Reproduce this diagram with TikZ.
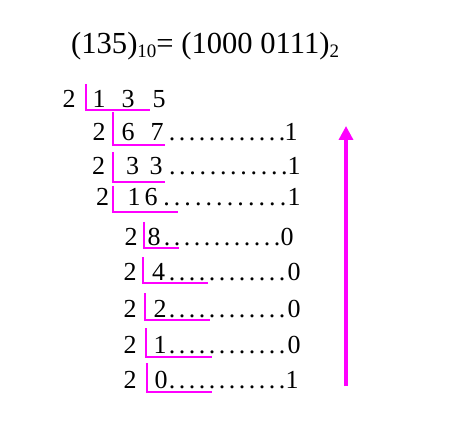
\documentclass[tikz,border=0pt]{standalone}
\usepackage{fontspec}
\setmainfont{Liberation Serif}
\usetikzlibrary{arrows.meta}
\definecolor{mag}{RGB}{255,0,255}
\newcommand{\dotrow}[2]{\foreach \i in {1,...,#2}{\makebox[#1]{.}}}
\begin{document}
\begin{tikzpicture}[x=1pt,y=-1pt,
  txt/.style={inner sep=0pt,anchor=base,font=\fontsize{26}{26}\selectfont},
  dts/.style={inner sep=0pt,anchor=base west,font=\fontsize{26}{26}\selectfont},
  brk/.style={draw=mag,line width=2pt},
  arr/.style={draw=mag,line width=3.3pt,-{Triangle[length=14pt,width=14pt]}}]
\useasboundingbox (0,0) rectangle (455,422);
% title
\node[inner sep=0pt,anchor=base west,font=\fontsize{30.6}{30.6}\selectfont] (title) at (71,54)
  {(135)\raisebox{-4pt}{\fontsize{19}{19}\selectfont 10}= (1000 0111)\raisebox{-4pt}{\fontsize{19}{19}\selectfont 2}};
% row 0
\node[txt] (r0d) at (69,108) {2};
\node[txt] (r0a) at (99,108) {1};
\node[txt] (r0b) at (128,108) {3};
\node[txt] (r0c) at (159,108) {5};
\draw[brk] (86,84) |- (150,110);
% row 1
\node[txt] (r1d) at (99,141) {2};
\node[txt] (r1a) at (128,141) {6};
\node[txt] (r1b) at (157,141) {7};
\node[dts] (r1x) at (167,141) {\dotrow{10pt}{12}};
\node[txt] (r1r) at (291,141) {1};
\draw[brk] (113,112) |- (165,145);
% row 2
\node[txt] (r2d) at (98.5,175) {2};
\node[txt] (r2a) at (132.5,175) {3};
\node[txt] (r2b) at (156,175) {3};
\node[dts] (r2x) at (167,175) {\dotrow{10.2pt}{12}};
\node[txt] (r2r) at (294,175) {1};
\draw[brk] (113,152) |- (165,182);
% row 3
\node[txt] (r3d) at (102.5,206) {2};
\node[txt] (r3a) at (134,206) {1};
\node[txt] (r3b) at (151,206) {6};
\node[dts] (r3x) at (161,206) {\dotrow{10.6pt}{12}};
\node[txt] (r3r) at (294,206) {1};
\draw[brk] (113,186) |- (178,212);
% row 4
\node[txt] (r4d) at (131,245) {2};
\node[txt] (r4a) at (154,245) {8};
\node[dts] (r4x) at (162,245) {\dotrow{10pt}{12}};
\node[txt] (r4r) at (287,245) {0};
\draw[brk] (144,222) |- (179,248);
% row 5
\node[txt] (r5d) at (130,280) {2};
\node[txt] (r5a) at (158.5,280) {4};
\node[dts] (r5x) at (167,280) {\dotrow{10pt}{12}};
\node[txt] (r5r) at (294,280) {0};
\draw[brk] (143,257) |- (208,283);
% row 6
\node[txt] (r6d) at (130,317) {2};
\node[txt] (r6a) at (160,317) {2};
\node[dts] (r6x) at (167,317) {\dotrow{10pt}{12}};
\node[txt] (r6r) at (294,317) {0};
\draw[brk] (145,293) |- (210,320);
% row 7
\node[txt] (r7d) at (130,353) {2};
\node[txt] (r7a) at (160,353) {1};
\node[dts] (r7x) at (167,353) {\dotrow{10pt}{12}};
\node[txt] (r7r) at (294,353) {0};
\draw[brk] (146,328) |- (212,357);
% row 8
\node[txt] (r8d) at (130,388) {2};
\node[txt] (r8a) at (161,388) {0};
\node[dts] (r8x) at (167,388) {\dotrow{10pt}{12}};
\node[txt] (r8r) at (292,388) {1};
\draw[brk] (147,363) |- (212,392);
% arrow
\coordinate (abot) at (346,386);
\coordinate (atop) at (346,126);
\draw[arr] (abot) -- (atop);
\end{tikzpicture}
\end{document}
